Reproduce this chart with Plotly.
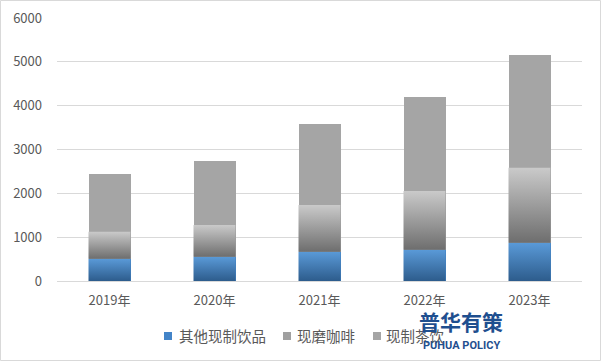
import plotly.graph_objects as go

years = ["2019年", "2020年", "2021年", "2022年", "2023年"]
other = [510, 555, 670, 715, 875]        # 其他现制饮品
coffee = [615, 725, 1065, 1340, 1710]    # 现磨咖啡
tea = [1320, 1460, 1850, 2145, 2580]     # 现制茶饮
y_ticks = [0, 1000, 2000, 3000, 4000, 5000, 6000]

FONT = "Noto Sans CJK SC, Liberation Sans, sans-serif"
TXT = "#595959"
W = 0.4
xs = list(range(len(years)))

fig = go.Figure()

series = [
    ("其他现制饮品", other, "#3f7fc0", ("#2d5c8c", "#5a9ad8")),
    ("现磨咖啡", coffee, "#9a9a9a", ("#6e6e6e", "#cacaca")),
    ("现制茶饮", tea, "#a5a5a5", None),
]

for name, vals, col, grad in series:
    fig.add_trace(go.Bar(x=xs, y=vals, name=name, width=W,
                         marker=dict(color=col, line=dict(width=0)),
                         hoverinfo="skip", showlegend=False))

# gradient overlays for the segments
base = [0] * len(xs)
for name, vals, col, grad in series:
    for i, v in enumerate(vals):
        b = base[i]
        t = b + v
        if grad is not None:
            fig.add_trace(go.Scatter(
                x=[i - W / 2, i + W / 2, i + W / 2, i - W / 2, i - W / 2],
                y=[b, b, t, t, b], mode="lines", fill="toself",
                line=dict(width=0, color="rgba(0,0,0,0)"),
                fillgradient=dict(type="vertical", start=b, stop=t,
                                  colorscale=[[0, grad[0]], [1, grad[1]]]),
                showlegend=False, hoverinfo="skip"))
        base[i] = t

fig.update_layout(
    width=601, height=361,
    margin=dict(l=57, r=19, t=18, b=80, autoexpand=False),
    barmode="stack",
    plot_bgcolor="white", paper_bgcolor="white",
    font=dict(family=FONT, color=TXT, size=13),
    xaxis=dict(range=[-0.5, len(years) - 0.5], tickvals=xs, ticktext=years,
               showgrid=False, zeroline=False, showline=False,
               ticks="", tickfont=dict(size=13, color=TXT), ticklabelstandoff=10),
    yaxis=dict(range=[0, 6000], tickvals=y_ticks, showgrid=True,
               gridcolor="#d9d9d9", gridwidth=1, zeroline=True,
               zerolinecolor="#d9d9d9", zerolinewidth=1, showline=False,
               ticks="", tickfont=dict(size=13, color=TXT), ticklabelstandoff=14),
    showlegend=False,
)

pw, ph = 525.0, 263.0
def xp(px):
    return (px - 57) / pw
def yp(py):
    return (281 - py) / ph

fig.add_shape(type="rect", xref="paper", yref="paper",
              x0=xp(0.5), x1=xp(600.5), y0=yp(360.5), y1=yp(0.5),
              line=dict(color="#d9d9d9", width=1), layer="below")

# legend (swatch + label for each series)
legend_sq = [164, 283, 373]
legend_tx = [177, 295, 384]
legend_cols = ["#4384c8", "#a0a0a0", "#a5a5a5"]
for (name, vals, col, grad), sx, tx, lc in zip(series, legend_sq, legend_tx, legend_cols):
    fig.add_shape(type="rect", xref="paper", yref="paper",
                  x0=xp(sx), x1=xp(sx + 8), y0=yp(340), y1=yp(332),
                  line=dict(width=0), fillcolor=lc)
    fig.add_annotation(text=name, xref="paper", yref="paper",
                       x=xp(tx), y=yp(335), showarrow=False,
                       xanchor="left", yanchor="middle",
                       font=dict(family=FONT, size=14.5, color=TXT))

fig.add_annotation(text="<b>普华有策</b>", xref="paper", yref="paper",
                   x=xp(461), y=yp(321), showarrow=False,
                   font=dict(family="Noto Sans CJK SC", size=21, color="#1f4f8f"),
                   xanchor="center", yanchor="middle")
fig.add_annotation(text="<b>PUHUA POLICY</b>", xref="paper", yref="paper",
                   x=xp(461), y=yp(345), showarrow=False,
                   font=dict(family="Liberation Sans Narrow, Roboto", size=11, color="#1f4f8f"),
                   xanchor="center", yanchor="middle")

fig.write_html("out.html", config={"displayModeBar": False},
               post_script="document.body.style.margin='0';document.body.style.overflow='hidden';")
